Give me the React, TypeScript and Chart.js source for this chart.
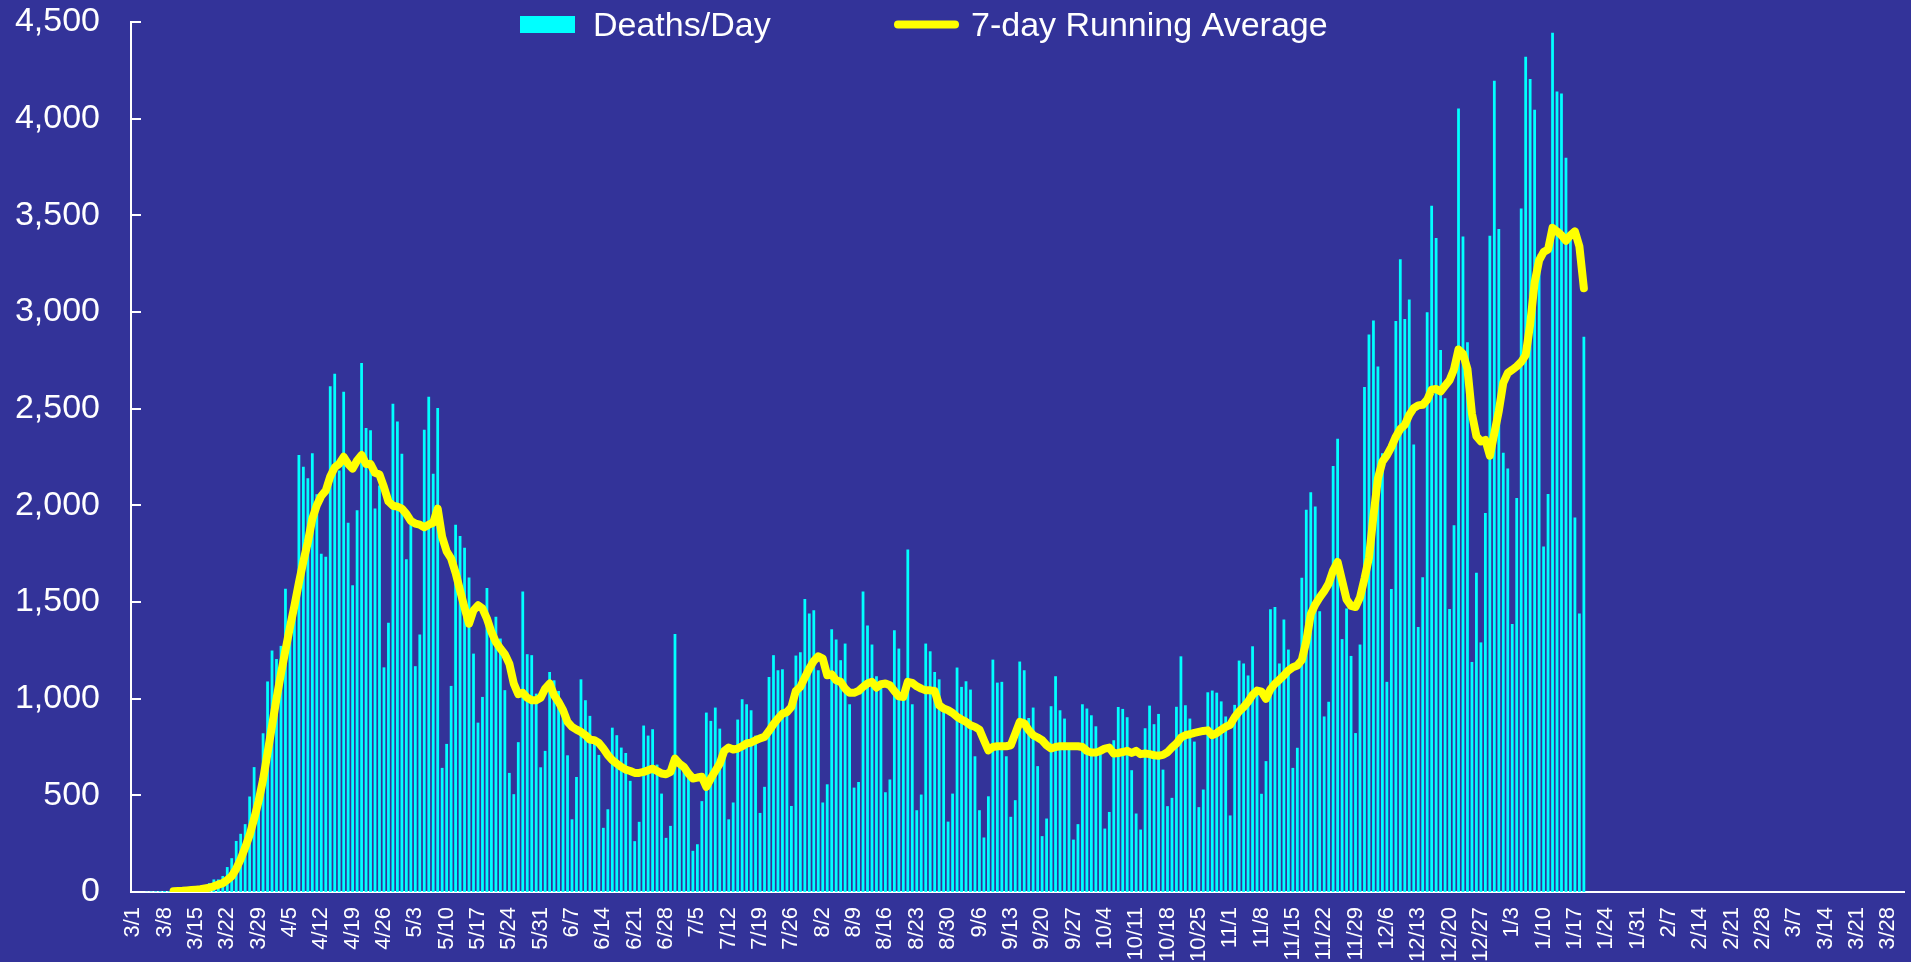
import React, { useEffect, useRef } from 'react';
import { Chart, registerables } from 'chart.js';

Chart.register(...registerables);

// Daily categories: 3/1/2020 .. 3/31/2021 (396 days)
const START_YEAR = 2020;
const DAY_COUNT = 396;
const categories: string[] = [];
for (let i = 0; i < DAY_COUNT; i++) {
  const d = new Date(Date.UTC(START_YEAR, 2, 1 + i));
  categories.push(`${d.getUTCMonth() + 1}/${d.getUTCDate()}`);
}

// Weekly tick labels shown on the x axis
const weekLabels = [
  '3/1', '3/8', '3/15', '3/22', '3/29', '4/5', '4/12', '4/19', '4/26', '5/3', '5/10', '5/17', '5/24', '5/31',
  '6/7', '6/14', '6/21', '6/28', '7/5', '7/12', '7/19', '7/26', '8/2', '8/9', '8/16', '8/23', '8/30',
  '9/6', '9/13', '9/20', '9/27', '10/4', '10/11', '10/18', '10/25', '11/1', '11/8', '11/15', '11/22', '11/29',
  '12/6', '12/13', '12/20', '12/27', '1/3', '1/10', '1/17', '1/24', '1/31', '2/7', '2/14', '2/21', '2/28',
  '3/7', '3/14', '3/21', '3/28',
];

// Deaths per day, starting 3/1/2020
const deathsPerDay: number[] = [
  0, 0, 0, 1, 2, 3, 4, 5, 4, 7, 8, 10, 11, 14, 16, 22, 30, 46, 65, 65,
  83, 129, 175, 264, 301, 351, 494, 646, 494, 821, 1089, 1249, 1205, 1273, 1568, 1415, 1518, 2260, 2199, 2140,
  2269, 2057, 1749, 1734, 2616, 2681, 2180, 2587, 1910, 1587, 1974, 2736, 2400, 2389, 1983, 2103, 1162, 1393, 2526, 2434,
  2267, 1721, 1900, 1168, 1332, 2391, 2561, 2164, 2504, 642, 766, 1066, 1899, 1841, 1780, 1627, 1233, 876, 1009, 1573,
  1350, 1424, 1311, 1044, 616, 506, 775, 1554, 1230, 1225, 1026, 645, 730, 1138, 1095, 1040, 923, 707, 376, 595,
  1100, 992, 911, 800, 709, 332, 428, 850, 811, 747, 719, 575, 263, 363, 861, 809, 842, 659, 509, 280,
  342, 1335, 682, 647, 620, 213, 247, 470, 928, 885, 954, 845, 700, 376, 463, 892, 997, 971, 940, 809,
  409, 544, 1112, 1225, 1147, 1152, 930, 445, 1223, 1240, 1516, 1440, 1457, 1147, 463, 557, 1359, 1306, 1199, 1285,
  971, 540, 569, 1554, 1378, 1280, 1116, 1080, 516, 582, 1354, 1259, 1000, 1771, 971, 423, 504, 1285, 1245, 1138,
  1100, 960, 364, 509, 1161, 1061, 1090, 1047, 702, 423, 282, 495, 1202, 1083, 1087, 702, 389, 475, 1192, 1147,
  900, 954, 651, 289, 380, 961, 1116, 940, 897, 760, 271, 351, 971, 949, 914, 857, 740, 328, 414, 785,
  957, 947, 904, 630, 406, 323, 847, 964, 868, 921, 633, 444, 487, 958, 1219, 966, 897, 778, 439, 530,
  1033, 1042, 1031, 986, 908, 396, 968, 1197, 1182, 1120, 1271, 1020, 508, 677, 1463, 1474, 1182, 1409, 1254, 642,
  746, 1625, 1977, 2068, 1994, 1452, 908, 984, 2204, 2344, 1308, 1466, 1221, 822, 1280, 2612, 2884, 2956, 2718, 2269,
  1087, 1567, 2954, 3273, 2964, 3065, 2315, 1371, 1628, 2999, 3550, 3383, 2803, 2554, 1464, 1897, 4052, 3391, 2843, 1190,
  1651, 1291, 1960, 3394, 4196, 3429, 2272, 2191, 1386, 2038, 3535, 4320, 4205, 4046, 3300, 1787, 2058, 4445, 4141, 4130,
  3798, 3400, 1937, 1441, 2872,
];

// 7-day running average, starting 3/1/2020 (null where not drawn)
const runningAverage: (number | null)[] = [
  null, null, null, null, null, null, null, null, null, 4, 5, 6, 8, 10, 12, 14, 18, 22, 30, 38,
  46, 62, 82, 120, 170, 230, 295, 378, 470, 581, 720, 860, 1000, 1130, 1250, 1370, 1480, 1600, 1710, 1810,
  1930, 2000, 2048, 2076, 2149, 2196, 2214, 2251, 2214, 2190, 2232, 2260, 2214, 2214, 2168, 2159, 2094, 2020, 1998, 1993,
  1983, 1956, 1919, 1906, 1900, 1887, 1900, 1910, 1983, 1836, 1762, 1725, 1651, 1559, 1470, 1388, 1457, 1483, 1466, 1414,
  1345, 1293, 1259, 1230, 1181, 1078, 1023, 1030, 1005, 992, 992, 1005, 1052, 1078, 1018, 983, 940, 880, 854, 840,
  828, 811, 788, 785, 771, 742, 708, 682, 664, 647, 633, 626, 616, 616, 621, 630, 638, 626, 613, 609,
  621, 690, 664, 647, 613, 587, 592, 596, 544, 587, 626, 664, 730, 747, 737, 742, 754, 768, 773, 785,
  795, 802, 833, 868, 897, 923, 930, 957, 1040, 1061, 1109, 1156, 1195, 1219, 1207, 1121, 1126, 1095, 1087, 1052,
  1030, 1030, 1040, 1061, 1078, 1087, 1057, 1075, 1078, 1069, 1040, 1012, 1009, 1087, 1082, 1064, 1052, 1043, 1043, 1040,
  966, 949, 940, 926, 906, 892, 880, 863, 854, 840, 785, 733, 750, 754, 754, 754, 759, 819, 880, 873,
  837, 811, 799, 785, 759, 742, 750, 754, 754, 754, 754, 754, 750, 730, 721, 721, 730, 742, 747, 716,
  719, 724, 730, 719, 730, 713, 716, 713, 707, 705, 709, 723, 747, 768, 799, 811, 816, 823, 828, 833,
  836, 811, 822, 839, 854, 865, 904, 934, 956, 984, 1020, 1042, 1036, 999, 1049, 1077, 1098, 1120, 1146, 1163,
  1172, 1200, 1297, 1437, 1487, 1524, 1556, 1595, 1664, 1707, 1610, 1513, 1480, 1474, 1524, 1621, 1729, 1945, 2139, 2226,
  2258, 2301, 2355, 2395, 2416, 2468, 2503, 2517, 2520, 2546, 2598, 2602, 2589, 2618, 2647, 2704, 2806, 2783, 2704, 2474,
  2358, 2330, 2338, 2257, 2372, 2488, 2633, 2684, 2701, 2719, 2742, 2777, 2936, 3152, 3267, 3310, 3323, 3435, 3417, 3397,
  3368, 3397, 3417, 3339, 3123,
];

const BG = '#333399';
const BAR_COLOR = '#00FFFF';
const LINE_COLOR = '#FFFF00';
const FONT = "'Liberation Sans', Arial, sans-serif";

const backgroundPlugin = {
  id: 'bgFill',
  beforeDraw(chart: any) {
    const { ctx, width, height } = chart;
    ctx.save();
    ctx.fillStyle = BG;
    ctx.fillRect(0, 0, width, height);
    ctx.restore();
  },
};

const inwardTicksPlugin = {
  id: 'inwardTicks',
  afterDraw(chart: any) {
    const y = chart.scales.y;
    const { ctx, chartArea } = chart;
    ctx.save();
    ctx.strokeStyle = '#FFFFFF';
    ctx.lineWidth = 2;
    y.ticks.forEach((t: any) => {
      const py = Math.round(y.getPixelForValue(t.value));
      ctx.beginPath();
      ctx.moveTo(chartArea.left, py);
      ctx.lineTo(chartArea.left + 10, py);
      ctx.stroke();
    });
    ctx.restore();
  },
};

const legendPlugin = {
  id: 'customLegend',
  afterDraw(chart: any) {
    const { ctx } = chart;
    ctx.save();
    ctx.font = `34px ${FONT}`;
    ctx.textBaseline = 'alphabetic';
    ctx.fillStyle = BAR_COLOR;
    ctx.fillRect(520, 16, 55, 17);
    ctx.fillStyle = '#FFFFFF';
    ctx.fillText(chart.data.datasets[1].label, 593, 36);
    ctx.strokeStyle = LINE_COLOR;
    ctx.lineWidth = 8;
    ctx.lineCap = 'round';
    ctx.beginPath();
    ctx.moveTo(898, 24.5);
    ctx.lineTo(955, 24.5);
    ctx.stroke();
    ctx.fillStyle = '#FFFFFF';
    ctx.fillText(chart.data.datasets[0].label, 971, 36);
    ctx.restore();
  },
};

export default function App() {
  const canvasRef = useRef<HTMLCanvasElement | null>(null);

  useEffect(() => {
    document.body.style.margin = '0';
    document.body.style.background = BG;
    const canvas = canvasRef.current;
    if (!canvas) return;
    const chart = new Chart(canvas, {
      type: 'bar',
      data: {
        labels: categories,
        datasets: [
          {
            type: 'line',
            label: '7-day Running Average',
            data: runningAverage,
            borderColor: LINE_COLOR,
            backgroundColor: LINE_COLOR,
            borderWidth: 8,
            pointRadius: 0,
            pointHoverRadius: 0,
            tension: 0,
            borderCapStyle: 'round',
            borderJoinStyle: 'round',
            spanGaps: false,
            order: 0,
          } as any,
          {
            type: 'bar',
            label: 'Deaths/Day',
            data: deathsPerDay,
            backgroundColor: BAR_COLOR,
            borderWidth: 0,
            barPercentage: 0.62,
            categoryPercentage: 1.0,
            order: 1,
          } as any,
        ],
      },
      options: {
        responsive: false,
        animation: false,
        devicePixelRatio: 1,
        layout: { padding: { top: 22, right: 7, left: 0, bottom: 0 } },
        plugins: {
          legend: { display: false },
          tooltip: { enabled: false },
        },
        scales: {
          x: {
            type: 'category',
            offset: true,
            grid: { display: false, drawTicks: false },
            border: { display: true, color: '#FFFFFF', width: 2 },
            ticks: {
              autoSkip: false,
              minRotation: 90,
              maxRotation: 90,
              padding: 15,
              color: '#FFFFFF',
              font: { family: FONT, size: 22 },
              callback: (_v: any, index: number) => (index % 7 === 0 ? weekLabels[index / 7] ?? '' : ''),
            },
            afterFit: (scale: any) => {
              scale.height = 70;
              scale.paddingLeft = 0;
              scale.paddingRight = 0;
            },
          },
          y: {
            min: 0,
            max: 4500,
            grid: { display: false, drawTicks: false },
            border: { display: true, color: '#FFFFFF', width: 2 },
            ticks: {
              stepSize: 500,
              padding: 31,
              color: '#FFFFFF',
              font: { family: FONT, size: 34 },
            },
            afterFit: (scale: any) => {
              scale.width = 131;
              scale.paddingTop = 0;
              scale.paddingBottom = 0;
            },
          },
        },
      },
      plugins: [backgroundPlugin, inwardTicksPlugin, legendPlugin],
    });
    return () => chart.destroy();
  }, []);

  return (
    <div style={{ width: 1911, height: 962, background: BG }}>
      <canvas ref={canvasRef} width={1911} height={962} style={{ display: 'block' }} />
    </div>
  );
}
